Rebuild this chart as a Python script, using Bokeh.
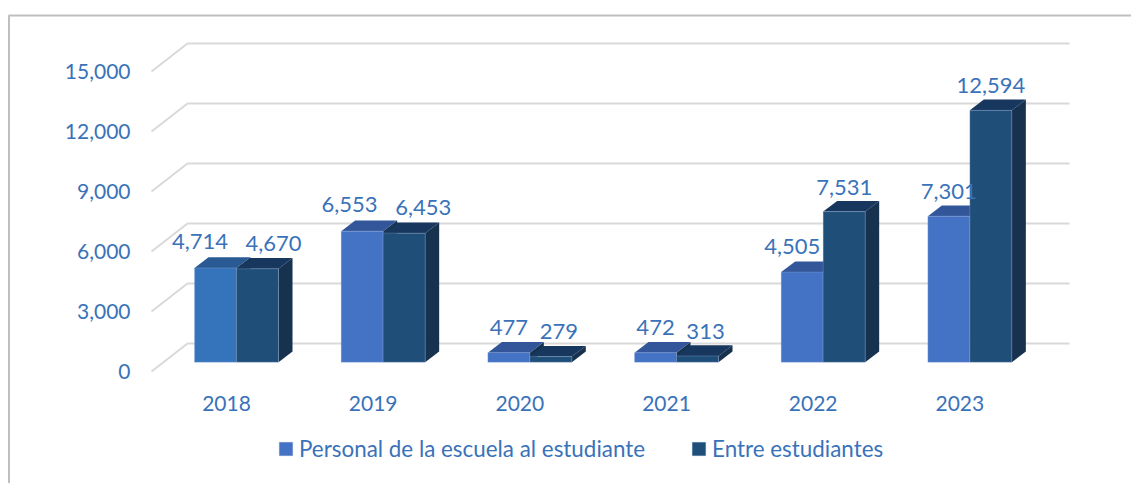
from bokeh.plotting import figure
from bokeh.models import ColumnDataSource, Range1d, FixedTicker, NumeralTickFormatter, Legend, LegendItem
from bokeh.core.properties import value
from bokeh.embed import file_html
from bokeh.resources import INLINE

years = ["2018", "2019", "2020", "2021", "2022", "2023"]
personal = [4714, 6553, 477, 472, 4505, 7301]
entre = [4670, 6453, 279, 313, 7531, 12594]
y_ticks = [0, 3000, 6000, 9000, 12000, 15000]
series_names = ["Personal de la escuela al estudiante", "Entre estudiantes"]

personal_front = ["#3574BA"] + ["#4472C4"] * 5
personal_top = ["#2A5A94"] + ["#33569A"] * 5
entre_front = ["#1F4E79"] * 6
entre_top = ["#17375E"] * 6
side_color = "#16324F"

TEXT = "#3A72BA"
FONT = "Lato"

# layout (pixels): the frame fills the whole canvas
W, H = 1131, 483
AX_X, Y0 = 151, 371            # canvas x of the value axis, canvas y of value 0
PX_X = 146.67                  # px per category
PX_Y = 0.02                    # px per unit
cx0 = 226                      # canvas x of first category label
ux = 1 / PX_X
uy = 1 / PX_Y


def X(px):
    return (px - cx0) * ux


def Y(px):
    return (Y0 - px) * uy


p = figure(width=W, height=H, output_backend="svg", toolbar_location=None,
           x_range=Range1d(X(0), X(W)), y_range=Range1d(Y(H), Y(0)),
           min_border_left=0, min_border_right=0, min_border_top=0,
           min_border_bottom=0, outline_line_color=None)
p.background_fill_color = "white"
p.grid.visible = False

p.xaxis.fixed_location = 0
p.yaxis.fixed_location = X(AX_X)
p.xaxis.ticker = FixedTicker(ticks=list(range(len(years))))
p.xaxis.major_label_overrides = {i: y for i, y in enumerate(years)}
p.yaxis.ticker = FixedTicker(ticks=y_ticks)
p.yaxis.formatter = NumeralTickFormatter(format="0,0")
for ax in (p.xaxis, p.yaxis):
    ax.axis_line_color = None
    ax.major_tick_line_color = None
    ax.minor_tick_line_color = None
    ax.major_label_text_color = TEXT
    ax.major_label_text_font = FONT
    ax.major_label_text_font_size = "21px"
p.xaxis.major_label_standoff = 18
p.yaxis.major_label_standoff = 15

# border of the chart area (open at right and bottom)
p.line(x=[X(8.5), X(8.5), X(W)], y=[Y(H), Y(15), Y(15)], line_color="#BFBFBF", line_width=2)

# 3D wall gridlines
GX, GY = 36 * ux, 28 * uy
p.multi_line(xs=[[X(AX_X), X(AX_X) + GX, X(1069)] for _ in y_ticks],
             ys=[[t, t + GY, t + GY] for t in y_ticks],
             line_color="#D9D9D9", line_width=2)

# bars
BASE = 9.3 * uy
BW = 42 * ux
DX, DY = 14 * ux, 10.7 * uy
OFF = 10 * ux            # bars sit right of the category label
pers_l = [i + OFF - BW for i in range(6)]
ent_l = [i + OFF for i in range(6)]


def draw(lefts, vals, front, top):
    rights = [l + BW for l in lefts]
    tops = [BASE + v for v in vals]
    src = ColumnDataSource(dict(left=lefts, right=rights, top=tops,
                                bottom=[BASE] * 6, color=front))
    p.patches(xs=[[r, r + DX, r + DX, r] for r in rights],
              ys=[[BASE, BASE + DY, t + DY, t] for t in tops],
              fill_color=side_color, line_color=None)
    p.patches(xs=[[l, l + DX, r + DX, r] for l, r in zip(lefts, rights)],
              ys=[[t, t + DY, t + DY, t] for t in tops],
              fill_color=top, line_color=None)
    return p.quad(left="left", right="right", top="top", bottom="bottom", source=src,
                  fill_color="color", line_color="#9DB7E0", line_alpha=0.3, line_width=1)


r1 = draw(pers_l, personal, personal_front, personal_top)
r2 = draw(ent_l, entre, entre_front, entre_top)

# value labels (hand-placed in the original chart)
p_dx = [-15.5, -12.7, 0, 0, -10, 0]
p_dy = [-26, -27, -25, -25, -26, -25]
e_dx = [16, 19, 8, 8, 0, 0]
e_dy = [-25, -25.5, -25, -24.5, -24.5, -25]
for lefts, vals, dxs, dys in ((pers_l, personal, p_dx, p_dy), (ent_l, entre, e_dx, e_dy)):
    src = ColumnDataSource(dict(x=[l + BW / 2 for l in lefts], y=[BASE + v for v in vals],
                                t=[f"{v:,}" for v in vals], dx=dxs, dy=dys))
    p.text(x="x", y="y", text="t", x_offset="dx", y_offset="dy", source=src,
           text_align="center", text_baseline="middle", text_color=TEXT,
           text_font=value(FONT), text_font_size="22px")

legend = Legend(items=[LegendItem(label=series_names[0], renderers=[r1], index=1),
                       LegendItem(label=series_names[1], renderers=[r2], index=1)],
                orientation="horizontal", location=(277, 21), spacing=45,
                label_standoff=5, glyph_width=17, glyph_height=17, margin=0, padding=0,
                border_line_color=None, background_fill_alpha=0,
                label_text_font=FONT, label_text_color=TEXT, label_text_font_size="22.4px")
p.add_layout(legend)

open("out.html", "w").write(file_html(p, INLINE))
